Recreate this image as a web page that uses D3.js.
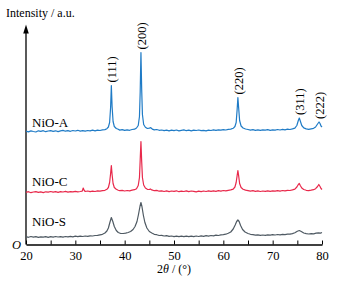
<!DOCTYPE html>
<html>
<head>
<meta charset="utf-8">
<script src="https://cdn.jsdelivr.net/npm/d3@7"></script>
<style>
  body { margin: 0; background: #fff; }
  svg { display: block; }
  svg text { font-family: "Liberation Serif", "Times New Roman", "DejaVu Serif", serif; }
</style>
</head>
<body>
<div id="container"></div>
<script>
/* DATA */
const seriesNames = ["NiO-A", "NiO-C", "NiO-S"];
const seriesOffsets = [113, 52, 7];

const nioA = [[20,0.3],[20.5,-0.4],[21,0.6],[21.5,0],[22,-0.5],[22.5,0.7],[23,0.1],[23.5,0.8],[24,-0.2],[24.5,0.5],[25,0.9],[25.5,0.2],[26,0.7],[26.5,-0.1],[27,0.6],[27.5,1.1],[28,0.3],[28.5,0.9],[29,0.2],[29.5,1],[30,0.5],[30.5,1.2],[31,0.4],[31.5,0.9],[32,0.3],[32.5,1],[33,0.6],[33.5,1.3],[34,0.7],[34.5,1.4],[35,1],[35.5,1.6],[36,1.9],[36.4,2.8],[36.7,4.5],[36.95,9],[37.15,24],[37.3,46],[37.45,25],[37.65,10],[37.9,5],[38.3,3],[38.7,2.2],[39,1.4],[39.5,1.9],[40,1.1],[40.5,1.7],[41,1.2],[41.5,2],[42,2.3],[42.4,3.5],[42.75,6],[43,15],[43.15,40],[43.3,79],[43.45,42],[43.6,17],[43.85,7],[44.2,4.2],[44.6,3],[45,3.4],[45.3,3.8],[45.6,2.4],[46,1.6],[46.5,2],[47,1.2],[47.5,1.5],[48,0.8],[48.5,1.4],[49,0.7],[49.5,1.3],[50,0.9],[50.5,1.5],[51,0.6],[51.5,1.2],[52,1.6],[52.5,0.8],[53,1.3],[53.5,0.7],[54,1.4],[54.5,1],[55,1.5],[55.5,0.8],[56,1.2],[56.5,0.6],[57,1.3],[57.5,1],[58,1.6],[58.5,1.1],[59,1.7],[59.5,1.3],[60,1.8],[60.5,1.5],[61,2.1],[61.5,2.4],[62,3.2],[62.35,5],[62.6,9],[62.8,22],[62.95,34],[63.1,24],[63.3,11],[63.6,5.5],[64,3.5],[64.5,2.5],[65,2],[65.5,1.4],[66,1.9],[66.5,1.2],[67,1.7],[67.5,1.1],[68,1.6],[68.5,1.3],[69,1.8],[69.5,1.2],[70,1.7],[70.5,1.4],[71,2],[71.5,1.5],[72,2.1],[72.5,1.7],[73,2.3],[73.5,2],[74,2.6],[74.5,3.4],[74.9,6],[75.2,11],[75.4,13.5],[75.6,10.5],[75.9,6],[76.3,3.6],[76.8,2.6],[77.3,2.2],[77.8,2.7],[78.3,3.2],[78.7,4.5],[79.1,7.5],[79.4,9.5],[79.6,8],[79.8,5.5],[80,4.5]];

const nioC = [[20,0.2],[20.5,0.8],[21,-0.2],[21.5,0.5],[22,0.9],[22.5,0.1],[23,0.6],[23.5,-0.1],[24,0.7],[24.5,0.3],[25,1],[25.5,0.4],[26,0.8],[26.5,0.2],[27,0.9],[27.5,0.5],[28,1.1],[28.5,0.4],[29,0.9],[29.5,0.6],[30,1.2],[30.5,0.7],[31,1],[31.4,1.4],[31.6,4.5],[31.75,2.5],[32,1],[32.5,1.5],[33,0.8],[33.5,1.4],[34,1],[34.5,1.6],[35,1.3],[35.5,1.9],[36,2.2],[36.4,3.2],[36.7,5],[36.95,10],[37.15,19],[37.3,27],[37.45,18],[37.65,9],[37.9,5],[38.3,3.2],[38.7,2.3],[39,1.8],[39.5,2.2],[40,1.5],[40.5,2],[41,1.6],[41.5,2.4],[42,2.8],[42.4,3.8],[42.75,7],[43,15],[43.15,33],[43.3,51],[43.45,31],[43.6,15],[43.85,7.5],[44.2,4.5],[44.6,3.2],[45,3],[45.2,3.6],[45.5,2.6],[46,1.8],[46.5,2.1],[47,1.3],[47.5,1.7],[48,1],[48.5,1.6],[49,0.9],[49.5,1.5],[50,1.1],[50.5,1.7],[51,0.8],[51.5,1.4],[52,1],[52.5,1.6],[53,0.9],[53.5,1.5],[54,1.2],[54.5,0.7],[55,1.3],[55.5,0.9],[56,1.5],[56.5,1],[57,1.6],[57.5,1.1],[58,1.7],[58.5,1.2],[59,1.8],[59.5,1.4],[60,2],[60.5,1.6],[61,2.2],[61.5,2.6],[62,3.4],[62.35,5.5],[62.6,10],[62.8,17],[62.95,22],[63.1,17],[63.3,9],[63.6,5],[64,3.3],[64.5,2.4],[65,1.9],[65.5,1.3],[66,1.8],[66.5,1.2],[67,1.6],[67.5,1],[68,1.5],[68.5,1.1],[69,1.7],[69.5,1.2],[70,1.6],[70.5,1.3],[71,1.9],[71.5,1.4],[72,2],[72.5,1.6],[73,2.2],[73.5,2],[74,2.6],[74.5,3.3],[74.9,5.5],[75.2,8],[75.4,9],[75.6,7],[75.9,4.5],[76.3,3],[76.8,2.2],[77.3,1.9],[77.8,2.3],[78.3,2.8],[78.7,3.8],[79.1,6],[79.35,8],[79.6,6],[79.8,4],[80,3]];

const nioS = [[20,0.8],[20.5,0.2],[21,1],[21.5,0.4],[22,0.9],[22.5,0.1],[23,0.7],[23.5,0.3],[24,0.9],[24.5,0.2],[25,0.8],[25.5,0.4],[26,1],[26.5,0.5],[27,0.9],[27.5,0.3],[28,1],[28.5,0.6],[29,1.2],[29.5,0.7],[30,1.3],[30.5,0.8],[31,1.4],[31.5,1],[32,1.5],[32.5,1.2],[33,1.7],[33.5,1.5],[34,2],[34.5,2.2],[35,2.7],[35.5,3.2],[36,4.5],[36.4,6.5],[36.7,9.5],[37,15],[37.3,20],[37.6,16],[37.9,11],[38.3,7],[38.7,5],[39.2,4],[39.7,4],[40.2,4.3],[40.7,5],[41.2,6],[41.7,8],[42.1,11],[42.5,16],[42.8,23],[43.1,31],[43.3,35],[43.5,31],[43.8,22],[44.1,15],[44.5,9.5],[45,6],[45.5,4.5],[46,3.2],[46.5,2.8],[47,2],[47.5,2.2],[48,1.5],[48.5,1.8],[49,1.1],[49.5,1.5],[50,0.9],[50.5,1.4],[51,0.8],[51.5,1.3],[52,0.9],[52.5,1.4],[53,0.8],[53.5,1.3],[54,0.9],[54.5,1.5],[55,1],[55.5,1.6],[56,1.2],[56.5,1.8],[57,1.4],[57.5,2],[58,1.7],[58.5,2.3],[59,2],[59.5,2.6],[60,2.9],[60.5,3.3],[61,4.2],[61.5,5.5],[62,8.5],[62.4,12.5],[62.7,16],[62.95,17.5],[63.2,16],[63.5,12],[63.9,8],[64.4,5.5],[65,4],[65.5,3.2],[66,2.9],[66.5,2.4],[67,2.6],[67.5,2.1],[68,2.5],[68.5,2.2],[69,2.7],[69.5,2.3],[70,2.8],[70.5,2.5],[71,3],[71.5,2.7],[72,3.1],[72.5,2.9],[73,3.4],[73.5,3.3],[74,3.9],[74.5,4.8],[75,6.3],[75.4,7],[75.8,6],[76.3,4.5],[76.8,3.8],[77.3,3.5],[77.8,3.9],[78.3,3.6],[78.8,4.3],[79.3,4.7],[79.7,4.4],[80,5]];

const peakLabels = ["(111)", "(200)", "(220)", "(311)", "(222)"];
const peakPositions = [37.3, 43.3, 62.95, 75.4, 79.4];
const xTicks = [20, 30, 40, 50, 60, 70, 80];

/* CONSTANTS */
const width = 341, height = 283;
const serif = "'Liberation Serif', 'Times New Roman', 'DejaVu Serif', serif";
const colors = ["#1f7bc6", "#e8294b", "#4f5a63"];
const allSeries = [nioA, nioC, nioS];

const svg = d3.select("#container")
  .append("svg")
  .attr("width", width)
  .attr("height", height)
  .attr("font-family", serif);

// SCALES
const x = d3.scaleLinear().domain([20, 80]).range([26, 322]);
const y = d3.scaleLinear().domain([0, 220]).range([244.5, 24.5]);

// AXES
const xAxis = svg.append("g")
  .attr("transform", `translate(0,${y(0)})`)
  .call(d3.axisBottom(x)
    .tickValues(d3.range(20, 81, 5))
    .tickSizeInner(-4).tickSizeOuter(0)
    .tickFormat(d => xTicks.includes(d) ? d : ""));
xAxis.attr("font-family", serif);
xAxis.select(".domain").attr("stroke", "#000").attr("stroke-width", 1.3);
xAxis.selectAll(".tick line").attr("stroke", "#000");
xAxis.selectAll(".tick text")
  .attr("y", 7)
  .attr("font-size", 12.5)
  .attr("fill", "#000");

// Y AXIS WITH ARROW
svg.append("line")
  .attr("x1", x(20)).attr("x2", x(20))
  .attr("y1", y(0)).attr("y2", y(214))
  .attr("stroke", "#000").attr("stroke-width", 1.3);
svg.append("path")
  .attr("d", `M${x(20)},${y(220)} L${x(20) - 2.8},${y(211)} L${x(20) + 2.8},${y(211)} Z`)
  .attr("fill", "#000");

svg.append("text")
  .attr("x", 6).attr("y", 17)
  .attr("font-size", 12)
  .text("Intensity / a.u.");

svg.append("text")
  .attr("x", 21).attr("y", 249)
  .attr("text-anchor", "end")
  .attr("font-size", 12.5)
  .attr("font-style", "italic")
  .text("O");

const xTitle = svg.append("text")
  .attr("x", x(50)).attr("y", 273)
  .attr("text-anchor", "middle")
  .attr("font-size", 12);
xTitle.append("tspan").text("2");
xTitle.append("tspan").attr("font-style", "italic").text("θ");
xTitle.append("tspan").text(" / (°)");

// LINES
const line = (offset) => d3.line()
  .x(d => x(d[0]))
  .y(d => y(d[1] + offset));

svg.selectAll("path.pattern")
  .data(allSeries)
  .join("path")
  .attr("class", "pattern")
  .attr("d", (d, i) => line(seriesOffsets[i])(d))
  .attr("fill", "none")
  .attr("stroke", (d, i) => colors[i])
  .attr("stroke-width", 1.2)
  .attr("stroke-linejoin", "round");

// SERIES LABELS
const labelY = [127, 186, 226];
svg.selectAll("text.series")
  .data(seriesNames)
  .join("text")
  .attr("class", "series")
  .attr("x", 32)
  .attr("y", (d, i) => labelY[i])
  .attr("font-size", 13)
  .text(d => d);

// PEAK LABELS (above the NiO-A peaks)
const peakTop = (t) => {
  const near = nioA.filter(p => Math.abs(p[0] - t) < 0.3);
  return d3.max(near, p => p[1]) + seriesOffsets[0];
};
svg.selectAll("text.hkl")
  .data(peakLabels)
  .join("text")
  .attr("class", "hkl")
  .attr("font-size", 12.5)
  .attr("dy", "0.33em")
  .attr("transform", (d, i) => `translate(${x(peakPositions[i]) + 0.5},${y(peakTop(peakPositions[i])) - 3}) rotate(-90)`)
  .text(d => d);
</script>
</body>
</html>
